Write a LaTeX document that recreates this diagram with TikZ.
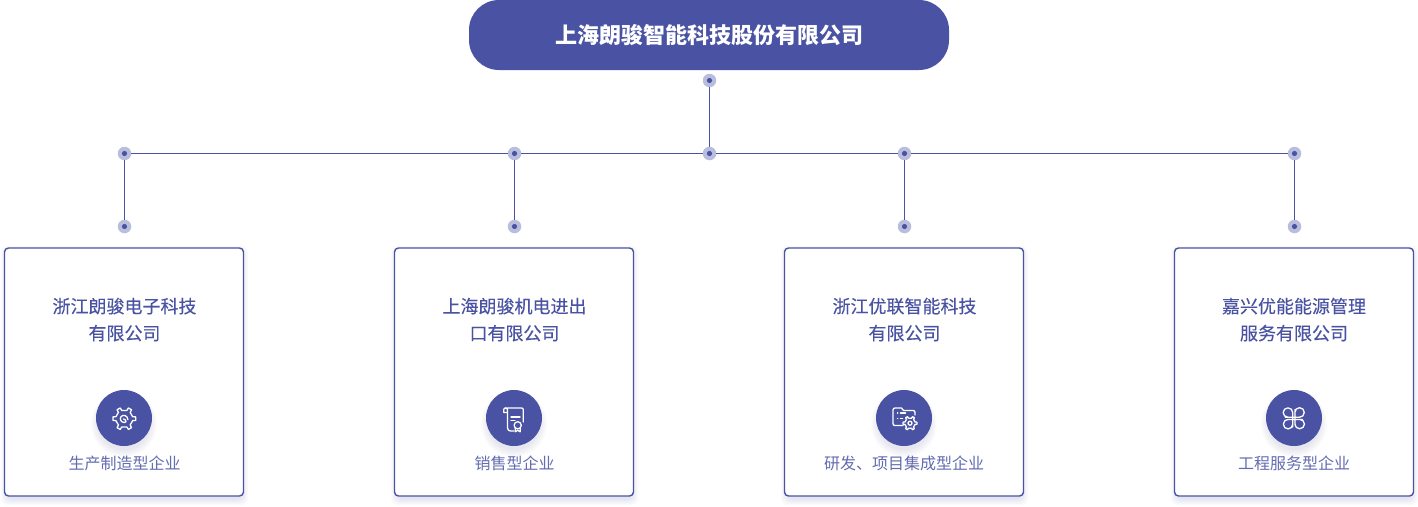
\documentclass[tikz,border=0pt]{standalone}
\usepackage{fontspec}
\newfontfamily\cjk{Noto Sans CJK SC}
\newfontfamily\cjkmed[FakeBold=0.12]{Noto Sans CJK SC}
\definecolor{mainc}{HTML}{4A53A3}
\definecolor{dotc}{HTML}{B9BEDD}
\definecolor{subc}{HTML}{646CB0}
\tikzset{
  dotnode/.style={circle,fill=dotc,draw=none,minimum size=13.5pt,inner sep=0pt,
    path picture={\fill[mainc] (path picture bounding box.center) circle (2.6pt);}},
  wire/.style={draw=mainc,line width=1pt},
  titlebox/.style={rounded corners=30pt,fill=mainc,draw=none,minimum width=480pt,minimum height=70pt,inner sep=0pt,text=white,font=\cjk\bfseries\fontsize{22}{26}\selectfont},
  cardbox/.style={rounded corners=4pt,fill=white,draw=mainc,line width=1.4pt,minimum width=239pt,minimum height=248pt,inner sep=0pt},
  cardtitle/.style={text=mainc,align=center,inner sep=0pt,font=\cjkmed\fontsize{18}{27}\selectfont},
  cardsub/.style={text=subc,inner sep=0pt,font=\cjk\fontsize{16}{20}\selectfont},
  badge/.style={circle,fill=mainc,draw=none,minimum size=56pt,inner sep=0pt},
  iconline/.style={draw=white,line width=1.3pt,line cap=round,line join=round},
}
\newcommand{\softcard}[1]{%
  \foreach \w in {1,2,...,7}{\fill[mainc,opacity=0.018,rounded corners=6pt]
    ({#1+0.5-119.5-\w+3},{248+4-\w+1}) rectangle ({#1+0.5+119.5+\w-3},{496+3+\w-1});}}
\newcommand{\softdisc}[1]{%
  \foreach \w in {1,2,...,8}{\fill[mainc,opacity=0.014] (#1,424) circle [radius={(25+\w)*1pt}];}}
\newcommand{\geartrace}[2]{% outer, inner radius
  \draw[iconline] (-47:#2pt)
  \foreach \a in {0,60,...,300}{ -- ({\a-13}:#2pt) -- ({\a-9}:#1pt) -- ({\a+9}:#1pt) -- ({\a+13}:#2pt)
    -- ({\a+47}:#2pt)} -- cycle;}
\begin{document}
\begin{tikzpicture}[x=1pt,y=-1pt]
\useasboundingbox (0,0) rectangle (1418,506);
\fill[white] (0,0) rectangle (1418,506);

% title
\node[titlebox] (top) at (709,35) {\raisebox{1.2pt}{上海朗骏智能科技股份有限公司}};

% hub dots
\node[dotnode] (d0) at (709.5,80.5) {};
\node[dotnode] (hub) at (709.5,153.5) {};
\node[dotnode] (a1) at (124.5,153.5) {};
\node[dotnode] (a2) at (514.5,153.5) {};
\node[dotnode] (a3) at (904.5,153.5) {};
\node[dotnode] (a4) at (1294.5,153.5) {};
\node[dotnode] (b1) at (124.5,226.5) {};
\node[dotnode] (b2) at (514.5,226.5) {};
\node[dotnode] (b3) at (904.5,226.5) {};
\node[dotnode] (b4) at (1294.5,226.5) {};

\draw[wire] (d0) -- (hub);
\draw[wire] (a1) -- (a2);
\draw[wire] (a2) -- (hub);
\draw[wire] (hub) -- (a3);
\draw[wire] (a3) -- (a4);
\draw[wire] (a1) -- (b1);
\draw[wire] (a2) -- (b2);
\draw[wire] (a3) -- (b3);
\draw[wire] (a4) -- (b4);

% cards
\softcard{124}\softcard{514}\softcard{904}\softcard{1294}
\node[cardbox] (c1) at (124,372) {};
\node[cardbox] (c2) at (514,372) {};
\node[cardbox] (c3) at (904,372) {};
\node[cardbox] (c4) at (1294,372) {};

\node[cardtitle] (t1) at (124.5,319.6) {浙江朗骏电子科技\\有限公司};
\node[cardtitle] (t2) at (514.5,319.6) {上海朗骏机电进出\\口有限公司};
\node[cardtitle] (t3) at (904.5,319.6) {浙江优联智能科技\\有限公司};
\node[cardtitle] (t4) at (1294,319.6) {嘉兴优能能源管理\\服务有限公司};

\softdisc{124}\softdisc{514}\softdisc{904}\softdisc{1294}
\node[badge] (i1) at (124,418) {};
\node[badge] (i2) at (514,418) {};
\node[badge] (i3) at (904,418) {};
\node[badge] (i4) at (1294,418) {};

\node[cardsub] (s1) at (124.5,463) {生产制造型企业};
\node[cardsub] (s2) at (514.5,463) {销售型企业};
\node[cardsub] (s3) at (904,463) {研发、项目集成型企业};
\node[cardsub] (s4) at (1294,463) {工程服务型企业};

% gear icon
\begin{scope}[shift={(124.3,418.7)}]
  \geartrace{11.5}{8.6}
  \draw[iconline] (3.6,0.8) .. controls (3.4,-3) and (-1,-4.6) .. (-3.2,-2.2)
     .. controls (-5,0) and (-3.4,3.8) .. (0,3.8) .. controls (1.6,3.8) and (2.2,2.6) .. (1.4,1.4)
     .. controls (0.8,0.6) and (-0.4,0.6) .. (-0.8,0.2);
\end{scope}

% scroll / certificate icon
\begin{scope}[shift={(514,418)}]
  \draw[iconline] (-6.5,-6) -- (-6.5,-8) .. controls (-6.5,-9.3) and (-7.5,-10) .. (-8.6,-10)
     -- (7.5,-10) .. controls (8.8,-10) and (9.3,-9.3) .. (9.3,-8) -- (9.3,4);
  \draw[iconline] (-6.5,-5.5) -- (-10.3,-5.5) -- (-10.3,-8) .. controls (-10.3,-9.3) and (-9.6,-10) .. (-8.6,-10);
  \draw[iconline] (-6.5,-5.5) -- (-6.5,10) .. controls (-6.5,12) and (-5,13) .. (-3.5,13) -- (0,13);
  \draw[iconline] (-3,-1) -- (6,-1);
  \draw[iconline] (-3,2.8) -- (1,2.8);
  \draw[iconline] (3.7,7.3) circle (3.6pt);
  \draw[iconline] (1.2,10) -- (1.2,13.8) -- (3.7,12.3) -- (6.2,13.8) -- (6.2,10);
\end{scope}

% folder + gear icon
\begin{scope}[shift={(904,418)}]
  \draw[iconline] (-1,7.5) -- (-9,7.5) .. controls (-10.3,7.5) and (-11,6.8) .. (-11,5.5)
     -- (-11,-8) .. controls (-11,-9.2) and (-10.3,-10) .. (-9,-10) -- (-2.5,-10)
     -- (-0.5,-7.5) -- (9,-7.5) .. controls (10.3,-7.5) and (11,-6.8) .. (11,-5.5) -- (11,-3);
  \draw[iconline] (-6.5,-5) -- (-6.2,-5);
  \draw[iconline] (-3.5,-5) -- (1.5,-5);
  \draw[iconline] (-6.5,0.3) -- (-6.2,0.3);
  \draw[iconline] (-3.5,0.3) -- (-1.5,0.3);
  \begin{scope}[shift={(6,5.2)}]
    \geartrace{7}{5.2}
    \draw[iconline] (0,0) circle (2pt);
  \end{scope}
\end{scope}

% clover icon
\begin{scope}[shift={(1293.8,418.3)}]
  \foreach \r in {0,90,180,270}{
    \draw[iconline,rotate=\r,rounded corners=4.6pt] (-1.1,-4) -- (-1.1,-10.4) -- (-10.6,-10.4) -- (-10.6,-1.1) -- (-4,-1.1)
      [sharp corners] -- (-1.1,-1.1) -- cycle;
  }
\end{scope}
\end{tikzpicture}
\end{document}
